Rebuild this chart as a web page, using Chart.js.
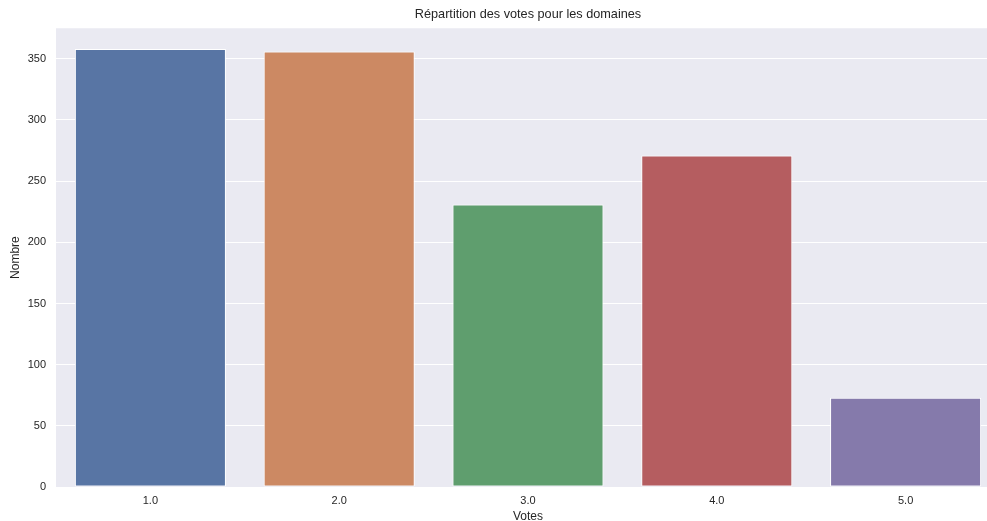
<!DOCTYPE html>
<html>
<head>
<meta charset="utf-8">
<script src="https://cdn.jsdelivr.net/npm/chart.js@4"></script>
<style>
  html, body { margin: 0; padding: 0; background: #fff; overflow: hidden; }
  #wrap { width: 987px; height: 521px; overflow: hidden; }
</style>
</head>
<body>
<div id="wrap"><canvas id="votesChart" width="1056" height="521"></canvas></div>
<script>
const categories = ['1.0', '2.0', '3.0', '4.0', '5.0'];
const counts = [358, 356, 231, 271, 73];
const barColors = ['#5875A4', '#CC8963', '#5F9E6E', '#B55D60', '#857AAB'];
const yTicks = [0, 50, 100, 150, 200, 250, 300, 350];

// Paint the seaborn-like grey background behind the plot area
const plotBackground = {
    id: 'plotBackground',
    beforeDraw(chart) {
        const { ctx, chartArea } = chart;
        ctx.save();
        ctx.fillStyle = '#EAEAF2';
        ctx.fillRect(chartArea.left, chartArea.top, chartArea.width, chartArea.height);
        ctx.restore();
    }
};

// Center the title over the plot area (matplotlib style) instead of the whole canvas
const titleOverPlot = {
    id: 'titleOverPlot',
    afterLayout(chart) {
        if (chart.titleBlock) {
            chart.titleBlock.left = chart.chartArea.left;
            chart.titleBlock.right = chart.chartArea.right;
        }
    }
};

new Chart(document.getElementById('votesChart').getContext('2d'), {
    type: 'bar',
    data: {
        labels: categories,
        datasets: [{
            label: 'Nombre',
            data: counts,
            backgroundColor: barColors,
            borderColor: '#ffffff',
            borderWidth: 1,
            borderSkipped: false,
            categoryPercentage: 0.8,
            barPercentage: 1.0
        }]
    },
    options: {
        responsive: false,
        animation: false,
        // the figure is cropped on the right, so the plot runs past the visible edge
        layout: { padding: { left: 0, right: 56, top: 0, bottom: 0 } },
        scales: {
            x: {
                grid: { display: false, drawTicks: false },
                border: { display: false },
                ticks: { color: '#262626', font: { family: 'Liberation Sans', size: 11 }, padding: 7 },
                title: { display: true, text: 'Votes', color: '#262626', font: { family: 'Liberation Sans', size: 12 }, padding: { top: 0, bottom: -3 } },
                afterFit(scale) { scale.height = 34; }
            },
            y: {
                min: 0,
                max: 375,
                afterBuildTicks(scale) { scale.ticks = yTicks.map(v => ({ value: v })); },
                grid: { color: '#ffffff', lineWidth: 1, drawTicks: false },
                border: { display: false },
                ticks: { color: '#262626', font: { family: 'Liberation Sans', size: 11 }, padding: 10 },
                title: { display: true, text: 'Nombre', color: '#262626', font: { family: 'Liberation Sans', size: 12 }, padding: { top: 8, bottom: 4 } },
                afterFit(scale) { scale.width = 56; }
            }
        },
        plugins: {
            legend: { display: false },
            tooltip: { enabled: false },
            title: {
                display: true,
                text: 'Répartition des votes pour les domaines',
                color: '#262626',
                font: { family: 'Liberation Sans', size: 12.7, weight: 'normal' },
                padding: { top: 7, bottom: 6 }
            }
        }
    },
    plugins: [plotBackground, titleOverPlot]
});
</script>
</body>
</html>
